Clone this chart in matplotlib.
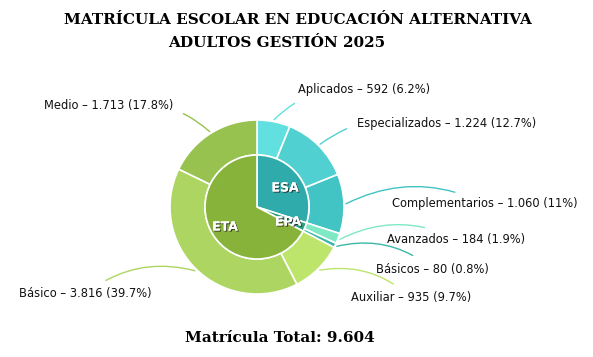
import matplotlib.pyplot as plt
import matplotlib.patheffects as pe
import numpy as np

# outer ring, clockwise from the top
sub_names = ["Aplicados", "Especializados", "Complementarios", "Avanzados",
             "Básicos", "Auxiliar", "Básico", "Medio"]
sub_values = [592, 1224, 1060, 184, 80, 935, 3816, 1713]
sub_pcts = ["6.2%", "12.7%", "11%", "1.9%", "0.8%", "9.7%", "39.7%", "17.8%"]
sub_colors = ["#62e0e0", "#50d0d0", "#42c3c4", "#7fe8c4", "#3bb7a6",
              "#bde56c", "#acd562", "#97c24f"]

# inner pie
group_names = ["ESA", "EPA", "ETA"]
group_values = [2876, 264, 6464]
group_colors = ["#2fabab", "#2b9f7c", "#88b33b"]

total = "9.604"

W, H = 593, 357
fig = plt.figure(figsize=(W / 100, H / 100), dpi=100)
ax = fig.add_axes([0, 0, 1, 1])
ax.axis("off")

cx, cy = 257, H - 207
R_out, R_in = 87, 52

ax.pie(sub_values, colors=sub_colors, radius=R_out, center=(cx, cy),
       startangle=90, counterclock=False,
       wedgeprops=dict(width=R_out - R_in, edgecolor="white", linewidth=1.2))
ax.pie(group_values, colors=group_colors, radius=R_in, center=(cx, cy),
       startangle=90, counterclock=False,
       wedgeprops=dict(edgecolor="white", linewidth=1.2))
ax.set_xlim(0, W)
ax.set_ylim(0, H)
ax.set_aspect("equal")

def fmt(v):
    return f"{v:,}".replace(",", ".")

# label anchor points (pixels, y from top)
label_pos = [(298, 90, "left"), (357, 124, "left"), (392, 204, "left"),
             (387, 239, "left"), (376, 269, "left"), (351, 298, "left"),
             (152, 294, "right"), (173, 105, "right")]

cum = np.cumsum([0] + sub_values)
tot = sum(sub_values)
for i, name in enumerate(sub_names):
    mid = (cum[i] + cum[i + 1]) / 2 / tot
    ang = np.deg2rad(90 - 360 * mid)
    px = cx + (R_out + 2) * np.cos(ang)
    py = cy + (R_out + 2) * np.sin(ang)
    lx, ly, ha = label_pos[i]
    rad = 0.25 if ha == "left" else -0.25
    ax.annotate(f"{name} – {fmt(sub_values[i])} ({sub_pcts[i]})",
                xy=(px, py), xytext=(lx, H - ly), ha=ha, va="center",
                fontsize=8.3, color="#111111",
                arrowprops=dict(arrowstyle="-", color=sub_colors[i], lw=1,
                                shrinkA=6, shrinkB=0,
                                connectionstyle=f"arc3,rad={rad}"))

inner_pos = [(285, 188), (288, 222), (225, 227)]
for (x, y), name in zip(inner_pos, group_names):
    ax.text(x, H - y, name, ha="center", va="center", fontsize=9, color="white",
            fontweight="bold",
            path_effects=[pe.withSimplePatchShadow(offset=(0.8, -0.8),
                                                   shadow_rgbFace="#222222", alpha=0.8),
                          pe.Normal()])

ax.text(298, H - 20, "MATRÍCULA ESCOLAR EN EDUCACIÓN ALTERNATIVA", ha="center",
        va="center", fontsize=11, fontweight="bold", family="DejaVu Serif")
ax.text(168, H - 43, "ADULTOS GESTIÓN 2025", ha="left",
        va="center", fontsize=11, fontweight="bold", family="DejaVu Serif")
ax.text(280, H - 338, f"Matrícula Total: {total}", ha="center", va="center",
        fontsize=11, fontweight="bold", family="DejaVu Serif")

fig.savefig("out.png", dpi=100, facecolor="white")
